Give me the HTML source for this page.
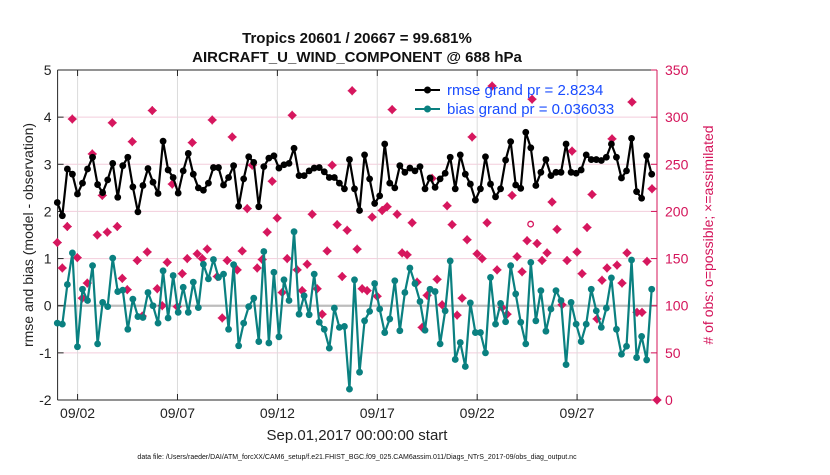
<!DOCTYPE html>
<html><head><meta charset="utf-8">
<style>
body{margin:0;background:#fff;}
svg text{font-family:"Liberation Sans",Arial,sans-serif;}
</style></head>
<body>
<svg id="chart" width="830" height="470" viewBox="0 0 830 470" xmlns="http://www.w3.org/2000/svg">
<rect width="830" height="470" fill="#fff"/>
<g id="grid"></g>
<g id="axes"></g>
<g id="series"></g>
<text x="357" y="43" text-anchor="middle" font-size="15" font-weight="bold" fill="#111">Tropics 20601 / 20667 = 99.681%</text>
<text x="357" y="62" text-anchor="middle" font-size="15" font-weight="bold" fill="#111">AIRCRAFT_U_WIND_COMPONENT @ 688 hPa</text>
<text transform="translate(33,235) rotate(-90)" text-anchor="middle" font-size="14" fill="#222">rmse and bias (model - observation)</text>
<text transform="translate(713,235) rotate(-90)" text-anchor="middle" font-size="14" fill="#d4145a"># of obs: o=possible; ×=assimilated</text>
<text x="357" y="440" text-anchor="middle" font-size="15" fill="#222">Sep.01,2017 00:00:00 start</text>
<text x="357" y="459" text-anchor="middle" font-size="7" fill="#111">data file: /Users/raeder/DAI/ATM_forcXX/CAM6_setup/f.e21.FHIST_BGC.f09_025.CAM6assim.011/Diags_NTrS_2017-09/obs_diag_output.nc</text>
<g id="legend">
  <line x1="415" y1="90" x2="440" y2="90" stroke="#000" stroke-width="2"/>
  <circle cx="427.5" cy="90" r="3.5" fill="#000"/>
  <text x="447" y="95" font-size="15" fill="#1a4cff">rmse grand pr = 2.8234</text>
  <line x1="415" y1="109" x2="440" y2="109" stroke="#0a8080" stroke-width="2"/>
  <circle cx="427.5" cy="109" r="3.5" fill="#0a8080"/>
  <text x="447" y="114" font-size="15" fill="#1a4cff">bias grand pr = 0.036033</text>
</g>
</svg>
<script>
const rmse = [2.19,1.91,2.90,2.79,2.37,2.60,2.90,3.15,2.57,2.40,2.67,3.02,2.30,2.97,3.15,2.52,1.99,2.55,2.91,2.62,2.38,3.49,2.88,2.72,2.39,2.86,3.23,2.79,2.50,2.45,2.60,
2.93,2.93,2.56,2.72,2.97,2.11,2.69,3.16,3.04,2.10,2.95,3.13,3.18,2.92,2.99,3.02,3.34,2.76,2.76,2.86,2.92,2.93,2.84,2.72,2.72,2.60,2.48,3.10,2.48,2.02,
3.20,2.69,2.17,2.33,3.43,2.60,2.50,2.97,2.83,2.92,2.86,2.95,2.48,2.71,2.51,2.69,2.81,3.15,2.48,3.20,2.79,2.58,2.24,2.48,3.16,2.58,2.31,2.48,
3.09,3.48,2.56,2.49,3.68,3.35,2.55,2.83,3.10,2.76,2.83,2.83,3.43,2.83,2.81,2.88,3.20,3.10,3.10,3.08,3.15,3.43,3.15,2.71,2.86,3.55,2.42,2.28,3.18,2.79];
const bias = [-0.37,-0.39,0.45,1.12,-0.87,0.35,0.11,0.85,-0.81,0.07,-0.02,1.01,0.30,0.33,-0.50,0.14,-0.23,-0.25,0.28,0,-0.37,0.74,-0.26,0.64,-0.14,0.39,-0.14,0.50,-0.04,0.88,0.57,
0.98,0.60,0.67,-0.50,0.87,-0.85,-0.37,-0.02,0.16,-0.76,1.15,-0.79,0.71,-0.66,0.55,0.11,1.57,-0.18,0.21,-0.19,0.67,-0.35,-0.50,-0.90,-0.05,-0.46,-0.44,-1.77,0.55,-1.41,
-0.32,-0.12,0.47,-0.07,-0.57,-0.28,0.53,-0.53,0.28,0.80,0.47,0.09,-0.52,0.35,0.30,-0.81,-0.11,0.95,-1.14,-0.78,-1.29,0.06,-0.57,-0.57,-1.0,0.60,-0.39,0.05,-0.34,
0.85,0.25,-0.35,-0.81,0.92,-0.32,0.32,-0.54,-0.07,0.32,0.11,-1.25,0.07,-0.39,-0.76,-0.39,0.35,-0.11,-0.46,-0.05,0.59,-0.50,-1.03,-0.86,0.97,-1.10,-0.65,-1.15,0.35];
const nobs = [167,140,184,298,151,108,124,261,175,217,178,294,184,129,117,274,148,89,157,307,118,100,146,229,99,134,150,273,155,150,160,
297,131,87,148,279,138,158,203,249,140,149,178,232,193,114,150,302,138,116,144,197,118,91,158,249,186,131,180,328,160,
118,116,194,110,201,205,308,197,156,154,188,125,77,111,235,128,101,206,186,90,108,170,279,155,150,188,333,138,98,91,217,
152,136,169,319,166,148,156,210,181,101,148,264,157,134,183,218,86,127,140,277,143,124,156,316,93,93,147,224,0];
const possibleOnly = [[93.5,177]];
const xTickLabels = ["09/02","09/07","09/12","09/17","09/22","09/27"];
const xTickDays = [1,6,11,16,21,26];
const leftTicks = [5,4,3,2,1,0,-1,-2];
const rightTicks = [350,300,250,200,150,100,50,0];

const X0=57.6, X1=657, Y0=400, Y1=70, DAYS=30;
const xDay = d => X0 + (d/DAYS)*(X1-X0);
const yL = v => Y0 - (v+2)/7*(Y0-Y1);
const yR = n => Y0 - n/350*(Y0-Y1);
const NS="http://www.w3.org/2000/svg";
function mk(tag, attrs, parent){const e=document.createElementNS(NS,tag);for(const k in attrs)e.setAttribute(k,attrs[k]);parent.appendChild(e);return e;}
const grid=document.getElementById('grid'), axes=document.getElementById('axes'), ser=document.getElementById('series');

leftTicks.forEach(v=>{
  const g=mk('line',{x1:X0,x2:X1,y1:yL(v),y2:yL(v),stroke:'#f3cddc','stroke-width':1},grid);
  
  
});
xTickDays.forEach((d,i)=>{
  const g=mk('line',{x1:xDay(d),x2:xDay(d),y1:Y1,y2:Y0,stroke:'#dcdcdc','stroke-width':1},grid);
  
  
  mk('line',{x1:xDay(d),x2:xDay(d),y1:Y0,y2:Y0-6,stroke:'#262626'},axes);
  mk('line',{x1:xDay(d),x2:xDay(d),y1:Y1,y2:Y1+6,stroke:'#262626'},axes);
  const t=mk('text',{x:xDay(d),y:418,'text-anchor':'middle','font-size':14,fill:'#222'},axes);
  t.textContent=xTickLabels[i];
  
  
});
const zl=mk('line',{x1:X0,x2:X1,y1:yL(0),y2:yL(0),stroke:'#bdbdbd','stroke-width':2.2},grid);



mk('line',{x1:X0,x2:X1,y1:Y1,y2:Y1,stroke:'#262626'},axes);
mk('line',{x1:X0,x2:X1,y1:Y0,y2:Y0,stroke:'#262626'},axes);
const la=mk('line',{x1:X0,x2:X0,y1:Y1,y2:Y0,stroke:'#262626'},axes);


const ra=mk('line',{x1:X1,x2:X1,y1:Y1,y2:Y0,stroke:'#d4145a'},axes);


leftTicks.forEach(v=>{
  mk('line',{x1:X0,x2:X0+6,y1:yL(v),y2:yL(v),stroke:'#262626'},axes);
  const t=mk('text',{x:X0-6,y:yL(v)+5,'text-anchor':'end','font-size':14,fill:'#222'},axes);
  t.textContent=v;
  
  
});
rightTicks.forEach(n=>{
  mk('line',{x1:X1,x2:X1-6,y1:yR(n),y2:yR(n),stroke:'#d4145a'},axes);
  const t=mk('text',{x:X1+8,y:yR(n)+5,'text-anchor':'start','font-size':14,fill:'#d4145a'},axes);
  t.textContent=n;
  
  
});

const xFirst=57.3, xLastLine=651.7;
const xLine = (i,n) => xFirst + i*(xLastLine-xFirst)/(n-1);
const xObs = (i,n) => xFirst + i*(X1-xFirst)/(n-1);

nobs.forEach((n,i)=>{
  const x=xObs(i,nobs.length), y=yR(n), s=3.8;
  const p=mk('path',{d:`M${x} ${y-s}L${x+s} ${y}L${x} ${y+s}L${x-s} ${y}Z M${x-4.5} ${y}L${x+4.5} ${y} M${x} ${y-4.5}L${x} ${y+4.5}`,fill:'#d6175e',stroke:'#d6175e','stroke-width':1.1},ser);
  
  
});
possibleOnly.forEach(([d,n])=>{
  const c=mk('circle',{cx:xDay(d*0.25+0.3),cy:yR(n)-9,r:2.8,fill:'none',stroke:'#d6175e','stroke-width':1.3},ser);
  
  
});

function drawLine(vals,color,name){
  const pts=vals.map((v,i)=>[xLine(i,vals.length),yL(v)]);
  const pl=mk('polyline',{points:pts.map(p=>p.join(',')).join(' '),fill:'none',stroke:color,'stroke-width':2.2,'stroke-linejoin':'round'},ser);
  
  
  pts.forEach(p=>{
    const c=mk('circle',{cx:p[0],cy:p[1],r:3.4,fill:color},ser);
    
    
  });
}
drawLine(rmse,'#000','rmse');
drawLine(bias,'#0a8080','bias');
</script>
</body></html>
